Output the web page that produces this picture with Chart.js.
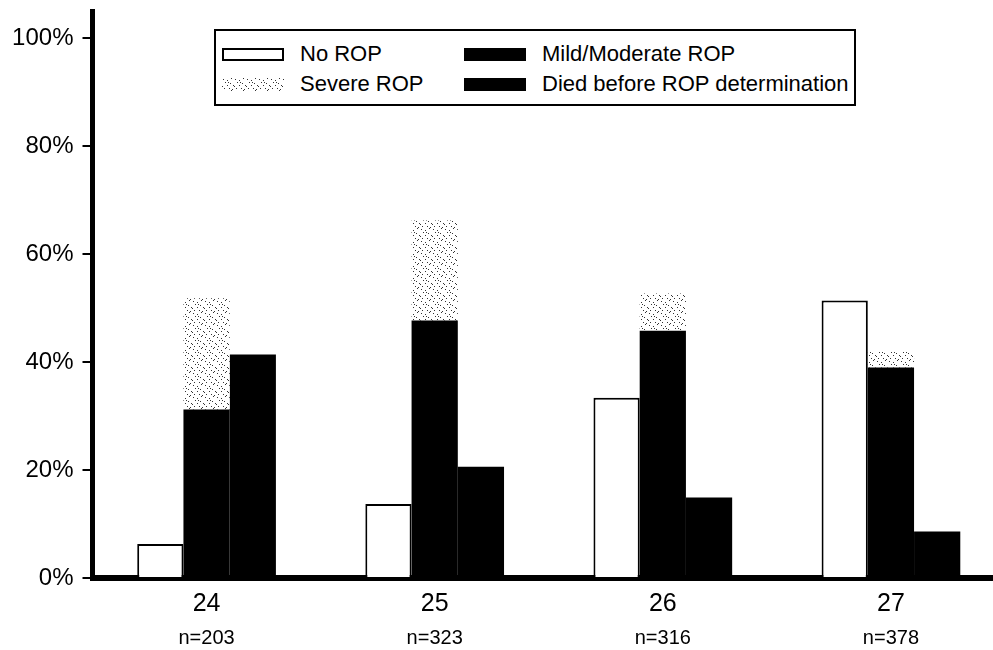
<!DOCTYPE html>
<html>
<head>
<meta charset="utf-8">
<script src="https://cdn.jsdelivr.net/npm/chart.js@4.4.1/dist/chart.umd.min.js"></script>
<style>
  html, body { margin: 0; padding: 0; background: #fff; overflow: hidden; }
  #wrap { position: relative; width: 993px; height: 650px; overflow: hidden; }
  #grafico { position: absolute; left: 0; top: 0; }
  #legenda { position: absolute; left: 214px; top: 29px; width: 638px; height: 73px;
    border: 2px solid #000; background: #fff; font: 22px "Liberation Sans", Arial, sans-serif; color: #000; }
  .item { position: absolute; display: flex; align-items: center; height: 14px; }
  .sw { width: 62px; height: 13px; box-sizing: border-box; margin-right: 16px; flex: none; }
  .txt { white-space: nowrap; line-height: 14px; }
</style>
</head>
<body>
<div id="wrap">
  <canvas id="grafico" width="1005" height="650"></canvas>
  <div id="legenda"></div>
</div>
<script>
// dados (idade gestacional em semanas)
const idades = ["24", "25", "26", "27"];
const nLabels = ["n=203", "n=323", "n=316", "n=378"];
const semROP = [6.3, 13.7, 33.4, 51.4];
const leveModerada = [31.2, 47.7, 45.8, 39.0];
const severa = [20.6, 18.5, 6.9, 2.9];
const morreu = [41.4, 20.6, 14.9, 8.6];
const yTicks = [0, 20, 40, 60, 80, 100];

// textura pontilhada da ROP severa
function pontilhado() {
  let c = document.createElement("canvas");
  c.width = 12; c.height = 12;
  let g = c.getContext("2d");
  g.fillStyle = "#fff";
  g.fillRect(0, 0, 12, 12);
  g.fillStyle = "#333";
  let pts = [[1,1],[5,2],[9,0],[3,4],[8,5],[11,7],[0,8],[5,7],[2,10],[7,10],[10,11],[6,4]];
  pts.forEach(p => g.fillRect(p[0], p[1], 1, 1));
  return c;
}
let texCanvas = pontilhado();
let ctx = document.getElementById("grafico").getContext("2d");
let textura = ctx.createPattern(texCanvas, "repeat");

const fonte = '"Liberation Sans", Arial, sans-serif';
Chart.defaults.font.family = fonte;
Chart.defaults.color = "#000";

let datasets = [
  { label: "No ROP", data: semROP, stack: "a", backgroundColor: "#fff", borderColor: "#000", borderWidth: 2, swatch: "#fff" },
  { label: "Mild/Moderate ROP", data: leveModerada, stack: "b", backgroundColor: "#000", borderWidth: 0, swatch: "#000" },
  { label: "Severe ROP", data: severa, stack: "b", backgroundColor: textura, borderWidth: 0, swatch: "url(" + texCanvas.toDataURL() + ")" },
  { label: "Died before ROP determination", data: morreu, stack: "c", backgroundColor: "#000", borderWidth: 0, swatch: "#000" }
];
datasets.forEach(d => { d.categoryPercentage = 0.608; d.barPercentage = 1.0; });

let semPadding = s => { s.paddingTop = 0; s.paddingBottom = 0; s.paddingLeft = 0; s.paddingRight = 0; };

let grafico = new Chart(ctx, {
  type: "bar",
  data: { labels: idades, datasets: datasets },
  options: {
    responsive: false,
    animation: false,
    layout: { padding: { top: 11, right: 0, bottom: 0, left: 0 } },
    plugins: { legend: { display: false }, tooltip: { enabled: false } },
    scales: {
      x: {
        stacked: true, z: 1,
        grid: { display: false, drawTicks: false },
        border: { display: true, color: "#000", width: 6 },
        ticks: { color: "#000", font: { size: 25 }, padding: 11 },
        afterFit: s => { semPadding(s); s.height = 46; }
      },
      xn: {
        type: "category", labels: nLabels, position: "bottom",
        grid: { display: false, drawTicks: false },
        border: { display: false },
        ticks: { color: "#000", font: { size: 20 }, padding: 2 },
        afterFit: s => { semPadding(s); s.height = 26; }
      },
      y: {
        stacked: true, min: 0, max: 105,
        afterBuildTicks: s => { s.ticks = yTicks.map(v => ({ value: v })); },
        grid: { display: true, drawOnChartArea: false, drawTicks: true, tickLength: 10, color: "#000", lineWidth: 2 },
        border: { display: true, color: "#000", width: 5 },
        ticks: { color: "#000", font: { size: 24 }, padding: 9, callback: v => v + "%" },
        afterFit: s => { semPadding(s); s.width = 92.5; }
      }
    }
  }
});

// legenda em caixa, 2 colunas
let legenda = document.getElementById("legenda");
let cols = [6, 248], rows = [16, 46];
datasets.forEach((d, i) => {
  let item = document.createElement("div");
  item.className = "item";
  item.style.left = cols[i % 2] + "px";
  item.style.top = rows[Math.floor(i / 2)] + "px";
  let sw = document.createElement("div");
  sw.className = "sw";
  sw.style.background = d.swatch;
  if (i == 0) sw.style.border = "2px solid #000";
  let t = document.createElement("span");
  t.className = "txt";
  t.textContent = d.label;
  item.appendChild(sw);
  item.appendChild(t);
  legenda.appendChild(item);
});
</script>
</body>
</html>
